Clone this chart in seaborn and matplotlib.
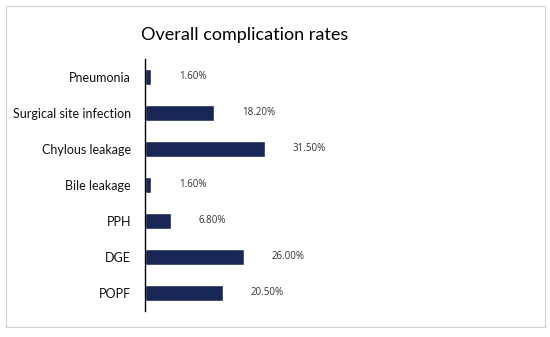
import matplotlib
matplotlib.use("Agg")
import matplotlib.pyplot as plt
import matplotlib.patches as patches
import pandas as pd
import seaborn as sns

complications = ["Pneumonia", "Surgical site infection", "Chylous leakage",
                 "Bile leakage", "PPH", "DGE", "POPF"]
rates = [1.6, 18.2, 31.5, 1.6, 6.8, 26.0, 20.5]
rate_labels = ["1.60%", "18.20%", "31.50%", "1.60%", "6.80%", "26.00%", "20.50%"]

df = pd.DataFrame({"complication": complications, "rate": rates})

sns.set_style("white")
plt.rcParams["font.family"] = ["Lato", "DejaVu Sans"]

fig = plt.figure(figsize=(5.5, 3.37), dpi=100)
ax = fig.add_axes([0.2636, 0.0772, 0.693, 0.748])

sns.barplot(data=df, x="rate", y="complication", order=complications,
            color="#0f2160", width=0.45, orient="h", ax=ax)

ax.set_xlim(0, 100)
ax.set_ylim(6.5, -0.5)
ax.set_xlabel("")
ax.set_ylabel("")
ax.set_xticks([])
ax.tick_params(axis="y", length=0, pad=10, labelsize=9)
for lbl in ax.get_yticklabels():
    lbl.set_color("#111111")

for side in ["top", "right", "bottom"]:
    ax.spines[side].set_visible(False)
ax.spines["left"].set_color("black")
ax.spines["left"].set_linewidth(1.0)

ax.bar_label(ax.containers[0], labels=rate_labels, padding=20,
             fontsize=7, color="#333333", family=["Open Sans", "DejaVu Sans"])

fig.text(0.444, 0.895, "Overall complication rates", ha="center", va="center",
         fontsize=13, color="black")

# light gray outer frame
fig.patches.append(patches.Rectangle((6 / 550, 10 / 337), 539 / 550, 321 / 337,
                                     transform=fig.transFigure, fill=False,
                                     edgecolor="#d0d0d0", linewidth=0.8))

fig.savefig("out.png", dpi=100)
